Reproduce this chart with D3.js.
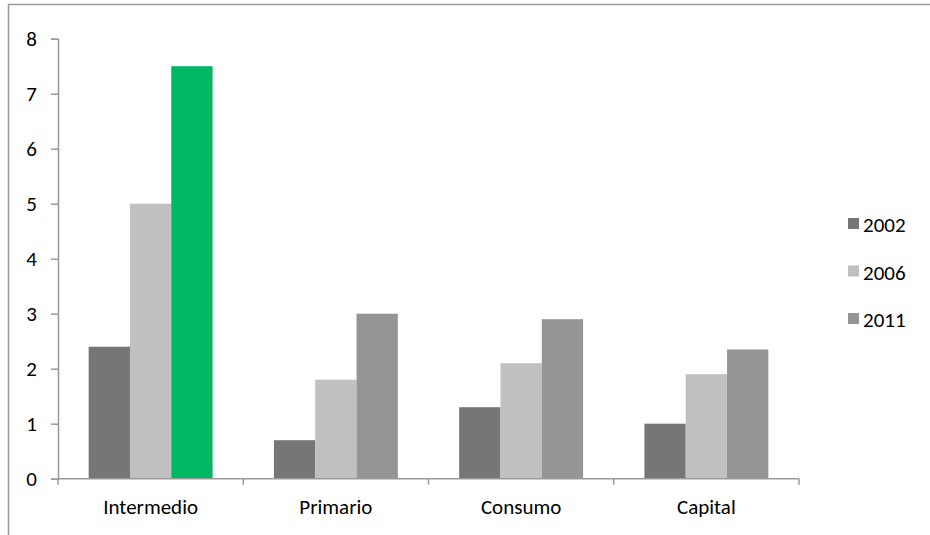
<!DOCTYPE html>
<html>
<head>
<meta charset="utf-8">
<script src="https://cdn.jsdelivr.net/npm/d3@7"></script>
<style>
  html, body { margin: 0; padding: 0; background: #fff; }
  svg { display: block; font-family: Calibri, Carlito, "Open Sans", sans-serif; }
</style>
</head>
<body>
<svg id="chart" width="930" height="535"></svg>
<script>
// Categories and yearly series
const categories = ["Intermedio", "Primario", "Consumo", "Capital"];
const years = ["2002", "2006", "2011"];
const values2002 = [2.4, 0.7, 1.3, 1.0];
const values2006 = [5.0, 1.8, 2.1, 1.9];
const values2011 = [7.5, 3.0, 2.9, 2.35];
const yTicks = [0, 1, 2, 3, 4, 5, 6, 7, 8];

const seriesValues = [values2002, values2006, values2011];
const seriesColors = ["#767676", "#c0c0c0", "#959595"];
const highlight = "#00b862";
const axisColor = "#9a9a9a";
const fontSize = 21;

const svg = d3.select("#chart");

// Outer frame (top and left edges visible)
svg.append("line").attr("x1", 8).attr("x2", 930).attr("y1", 4.5).attr("y2", 4.5)
  .attr("stroke", axisColor).attr("stroke-width", 1.5);
svg.append("line").attr("x1", 8.5).attr("x2", 8.5).attr("y1", 4).attr("y2", 535)
  .attr("stroke", axisColor).attr("stroke-width", 1.5);

const plot = { left: 58, right: 799, top: 38.7, bottom: 478.7 };

const x0 = d3.scaleBand().domain(categories).range([plot.left, plot.right]).paddingInner(0).paddingOuter(0);
const x1 = d3.scaleBand().domain(years).range([0, x0.bandwidth()]).paddingOuter(0.742);
const y = d3.scaleLinear().domain([0, 8]).range([plot.bottom, plot.top]);

// Bars
const groups = svg.append("g").selectAll("g").data(categories).join("g")
  .attr("transform", c => `translate(${x0(c)},0)`);

groups.selectAll("rect")
  .data((c, i) => years.map((yr, s) => ({ yr, s, v: seriesValues[s][i], i })))
  .join("rect")
  .attr("x", d => x1(d.yr))
  .attr("width", x1.bandwidth())
  .attr("y", d => y(d.v))
  .attr("height", d => y(0) - y(d.v))
  .attr("fill", d => (d.i === 0 && d.s === 2) ? highlight : seriesColors[d.s]);

// Y axis
const yAxis = svg.append("g").attr("transform", `translate(${plot.left},0)`)
  .call(d3.axisLeft(y).tickValues(yTicks).tickSize(7).tickPadding(14).tickFormat(d3.format("d")));
yAxis.select(".domain").attr("stroke", axisColor).attr("stroke-width", 1.5);
yAxis.selectAll(".tick line").attr("stroke", axisColor).attr("stroke-width", 1.5);
yAxis.selectAll(".tick text").attr("font-size", fontSize).attr("fill", "#000")
  .attr("font-family", "Calibri, Carlito, 'Open Sans', sans-serif");

// X axis with boundary ticks between categories
const xAxisG = svg.append("g").attr("transform", `translate(0,${plot.bottom})`);
xAxisG.append("line").attr("x1", plot.left).attr("x2", plot.right).attr("y1", 0).attr("y2", 0)
  .attr("stroke", axisColor).attr("stroke-width", 1.5);
const boundaries = categories.map(c => x0(c)).concat([plot.right]);
xAxisG.selectAll(".bt").data(boundaries).join("line")
  .attr("class", "bt")
  .attr("x1", d => d).attr("x2", d => d).attr("y1", 0).attr("y2", 6)
  .attr("stroke", axisColor).attr("stroke-width", 1.5);
xAxisG.selectAll(".cl").data(categories).join("text")
  .attr("class", "cl")
  .attr("x", c => x0(c) + x0.bandwidth() / 2)
  .attr("y", 35.3)
  .attr("text-anchor", "middle")
  .attr("font-size", fontSize)
  .attr("fill", "#000")
  .text(c => c);

// Legend
const legend = svg.append("g");
years.forEach((yr, s) => {
  const base = 232 + s * 47.5;
  legend.append("rect").attr("x", 848).attr("y", base - 14).attr("width", 11).attr("height", 11)
    .attr("fill", seriesColors[s]);
  legend.append("text").attr("x", 863).attr("y", base).attr("font-size", fontSize)
    .attr("fill", "#000").text(yr);
});
</script>
</body>
</html>
